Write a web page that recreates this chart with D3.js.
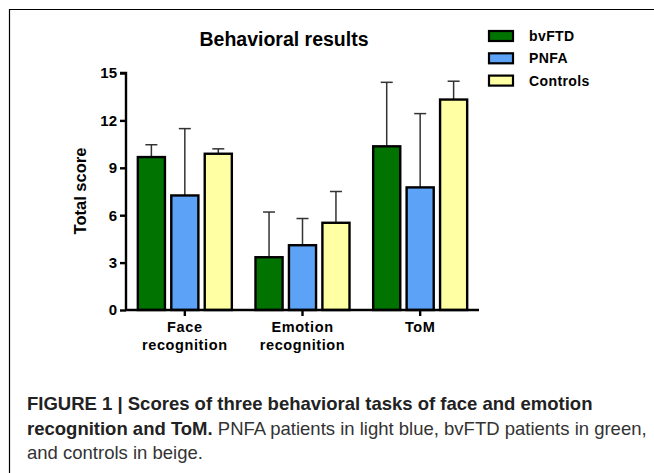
<!DOCTYPE html>
<html>
<head>
<meta charset="utf-8">
<script src="https://cdn.jsdelivr.net/npm/d3@7"></script>
<style>
  body { margin: 0; background: #fff; }
  svg { display: block; }
</style>
</head>
<body>
<svg id="chart" width="654" height="473"></svg>
<script>
const tasks = ['Face recognition', 'Emotion recognition', 'ToM'];
const groups = ['bvFTD', 'PNFA', 'Controls'];
const colors = ['#007300', '#5ca2f6', '#ffffa4'];
// mean and upper error (mean + SD) per group, per task
const bvftdMean = [9.68, 3.34, 10.36];
const bvftdErr  = [10.46, 6.2, 14.41];
const pnfaMean  = [7.25, 4.1, 7.76];
const pnfaErr   = [11.48, 5.79, 12.43];
const ctrlMean  = [9.89, 5.52, 13.32];
const ctrlErr   = [10.2, 7.5, 14.48];
const yTicks = [0, 3, 6, 9, 12, 15];

const means = [bvftdMean, pnfaMean, ctrlMean];
const errs = [bvftdErr, pnfaErr, ctrlErr];

const svg = d3.select('#chart');

// frame
svg.append('path')
  .attr('d', 'M9.5,473 V9.5 H654')
  .attr('fill', 'none')
  .attr('stroke', '#000')
  .attr('stroke-width', 1.2);

const plotL = 126, plotR = 479, plotT = 73, plotB = 310;

const x = d3.scaleBand().domain(tasks).range([plotL, plotR]).padding(0);
const xInner = d3.scaleBand().domain(groups).range([-47, 47]).paddingInner(0.19).paddingOuter(0);
const y = d3.scaleLinear().domain([0, 15]).range([plotB, plotT]);

const data = [];
tasks.forEach((t, i) => {
  groups.forEach((g, j) => {
    data.push({ task: t, group: g, color: colors[j], mean: means[j][i], err: errs[j][i] });
  });
});

const bars = svg.append('g');
const cx = d => x(d.task) + x.bandwidth() / 2 + xInner(d.group) + xInner.bandwidth() / 2;

// error bars
bars.selectAll('.err').data(data).join('g').attr('class', 'err')
  .each(function(d) {
    const g = d3.select(this);
    g.append('line')
      .attr('x1', cx(d)).attr('x2', cx(d))
      .attr('y1', y(d.mean)).attr('y2', y(d.err))
      .attr('stroke', '#333').attr('stroke-width', 1.5);
    g.append('line')
      .attr('x1', cx(d) - 6).attr('x2', cx(d) + 6)
      .attr('y1', y(d.err)).attr('y2', y(d.err))
      .attr('stroke', '#333').attr('stroke-width', 1.5);
  });

bars.selectAll('rect').data(data).join('rect')
  .attr('x', d => x(d.task) + x.bandwidth() / 2 + xInner(d.group))
  .attr('width', xInner.bandwidth())
  .attr('y', d => y(d.mean))
  .attr('height', d => y(0) - y(d.mean))
  .attr('fill', d => d.color)
  .attr('stroke', '#000')
  .attr('stroke-width', 2.4);

// axes
const yAxis = svg.append('g')
  .attr('transform', `translate(${plotL},0)`)
  .call(d3.axisLeft(y).tickValues(yTicks).tickSize(6).tickPadding(3));
const xAxis = svg.append('g')
  .attr('transform', `translate(0,${plotB})`)
  .call(d3.axisBottom(x).tickSize(6).tickSizeOuter(0).tickFormat(''));

[yAxis, xAxis].forEach(a => {
  a.select('.domain').attr('stroke', '#000').attr('stroke-width', 2.4);
  a.selectAll('.tick line').attr('stroke', '#000').attr('stroke-width', 2.4);
});
yAxis.select('.domain').attr('d', `M-6,${plotT}H0V${plotB}`);
yAxis.selectAll('.tick text')
  .attr('font-family', 'Liberation Sans, Arial, sans-serif')
  .attr('font-weight', 'bold').attr('font-size', 15).attr('fill', '#000');
xAxis.select('.domain').attr('d', `M${plotL},0H${plotR}`);

// x labels (two lines)
const xLabels = {
  'Face recognition': ['Face', 'recognition'],
  'Emotion recognition': ['Emotion', 'recognition'],
  'ToM': ['ToM']
};
tasks.forEach(t => {
  const tx = svg.append('text')
    .attr('x', x(t) + x.bandwidth() / 2)
    .attr('y', 332)
    .attr('text-anchor', 'middle')
    .attr('font-family', 'Liberation Sans, Arial, sans-serif')
    .attr('font-weight', 'bold').attr('font-size', 14.5)
    .attr('letter-spacing', 0.6);
  xLabels[t].forEach((line, k) => {
    tx.append('tspan').attr('x', x(t) + x.bandwidth() / 2).attr('dy', k === 0 ? 0 : 18).text(line);
  });
});

// title
svg.append('text')
  .attr('x', 284).attr('y', 46)
  .attr('text-anchor', 'middle')
  .attr('font-family', 'Liberation Sans, Arial, sans-serif')
  .attr('font-weight', 'bold').attr('font-size', 19.5)
  .text('Behavioral results');

// y label
svg.append('text')
  .attr('transform', 'translate(86,191) rotate(-90)')
  .attr('text-anchor', 'middle')
  .attr('font-family', 'Liberation Sans, Arial, sans-serif')
  .attr('font-weight', 'bold').attr('font-size', 16.5)
  .text('Total score');

// legend
const legend = svg.append('g').attr('transform', 'translate(489,31)');
groups.forEach((g, j) => {
  const row = legend.append('g').attr('transform', `translate(0,${j * 22.3})`);
  row.append('rect').attr('width', 24).attr('height', 10)
    .attr('fill', colors[j]).attr('stroke', '#000').attr('stroke-width', 2.2);
  row.append('text').attr('x', 40).attr('y', 10)
    .attr('font-family', 'Liberation Sans, Arial, sans-serif')
    .attr('font-weight', 'bold').attr('font-size', 14)
    .attr('letter-spacing', 0.4)
    .text(g);
});

// caption
const cap = svg.append('text')
  .attr('font-family', 'Liberation Sans, Arial, sans-serif')
  .attr('font-size', 18.5).attr('fill', '#222');
cap.append('tspan').attr('x', 27).attr('y', 410).attr('font-weight', 'bold')
  .text('FIGURE 1 | Scores of three behavioral tasks of face and emotion');
cap.append('tspan').attr('x', 27).attr('y', 434.5).attr('font-weight', 'bold')
  .text('recognition and ToM.');
cap.append('tspan').attr('fill', '#333').text(' PNFA patients in light blue, bvFTD patients in green,');
cap.append('tspan').attr('x', 27).attr('y', 459).attr('fill', '#333').text('and controls in beige.');
</script>
</body>
</html>
